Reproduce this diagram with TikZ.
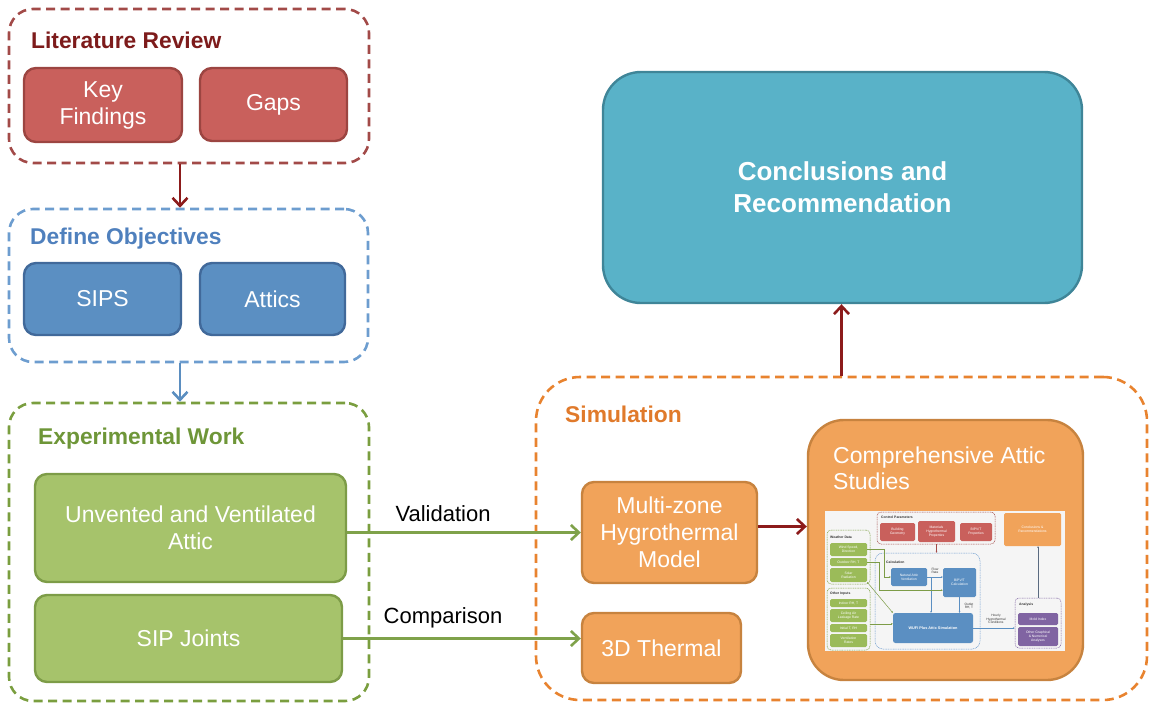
\documentclass[tikz,border=0pt]{standalone}
\usepackage{fontspec}
\setmainfont{Liberation Sans}
\usetikzlibrary{arrows.meta}

% palette
\definecolor{litBorder}{HTML}{A24A48}
\definecolor{litTitle}{HTML}{7D1B1B}
\definecolor{litFill}{HTML}{C9605C}
\definecolor{litDraw}{HTML}{9C4541}
\definecolor{objBorder}{HTML}{6D9DCF}
\definecolor{objTitle}{HTML}{4F80BD}
\definecolor{objFill}{HTML}{5B8FC2}
\definecolor{objDraw}{HTML}{41699A}
\definecolor{expBorder}{HTML}{7A9E3F}
\definecolor{expTitle}{HTML}{6E9638}
\definecolor{expFill}{HTML}{A6C36B}
\definecolor{expDraw}{HTML}{7D9C47}
\definecolor{simBorder}{HTML}{E8832F}
\definecolor{simTitle}{HTML}{E07A2B}
\definecolor{simFill}{HTML}{F1A35A}
\definecolor{simDraw}{HTML}{C7833F}
\definecolor{conFill}{HTML}{59B2C8}
\definecolor{conDraw}{HTML}{3F8598}
\definecolor{arrRed}{HTML}{8C1B1B}
\definecolor{arrBlue}{HTML}{5B8EC0}
\definecolor{arrGreen}{HTML}{7FA24A}
\definecolor{mPurple}{HTML}{8064A2}
\definecolor{mGreen}{HTML}{9BBB59}
\definecolor{mGray}{HTML}{5A6A80}
\definecolor{mText}{HTML}{333333}

% box from corner (#3,#4) to corner (#5,#6), in pixel units
\newcommand\placebox[7]{%
  \pgfmathsetmacro\bxc{(#3+#5)/2}\pgfmathsetmacro\byc{(#4+#6)/2}%
  \pgfmathsetmacro\bw{#5-#3}\pgfmathsetmacro\bh{#6-#4}%
  \node[#1, minimum width=\bw pt, minimum height=\bh pt] (#2) at (\bxc,\byc) {#7};}

\begin{document}
\begin{tikzpicture}[x=1pt,y=-1pt,
  group/.style={draw, line width=2.6pt, dash pattern=on 9pt off 5.5pt,
    rounded corners=24pt, inner sep=0pt},
  gtitle/.style={anchor=west, inner sep=0pt, font=\fontsize{22.8}{26}\selectfont\bfseries},
  box/.style={rounded corners=12pt, line width=2.4pt, align=center, text=white,
    inner sep=0pt, font=\fontsize{23}{27}\selectfont},
  flow/.style={line width=2.6pt, -{Straight Barb[length=8pt,width=15pt]}},
  lbl/.style={inner sep=0pt, text=black, font=\fontsize{22}{26}\selectfont},
  mgrp/.style={draw, line width=0.5pt, dash pattern=on 1pt off 0.7pt,
    rounded corners=4pt, inner sep=0pt},
  mtitle/.style={anchor=west, inner sep=0pt, text=mText,
    font=\fontsize{3.4}{3.8}\selectfont\bfseries},
  mbox/.style={rounded corners=1.5pt, align=center, text=white, inner sep=0pt,
    font=\fontsize{3.4}{3.8}\selectfont},
  mlbl/.style={align=center, inner sep=0pt, text=mText, font=\fontsize{3.2}{3.6}\selectfont},
  marr/.style={line width=0.5pt, -{Stealth[length=1.8pt,width=1.7pt]}}
]
\useasboundingbox (0,0) rectangle (1150,704);

% ---------- Literature Review ----------
\placebox{group, draw=litBorder}{lit}{9}{9}{369}{163}{}
\node[gtitle, text=litTitle] (litT) at (31,40) {Literature Review};
\placebox{box, fill=litFill, draw=litDraw}{kf}{24}{68}{182}{142}{Key\\Findings}
\placebox{box, fill=litFill, draw=litDraw}{gap}{200}{68}{347}{141}{Gaps}

% ---------- Define Objectives ----------
\placebox{group, draw=objBorder}{obj}{9}{209}{368}{362}{}
\node[gtitle, text=objTitle] (objT) at (30,239) {Define Objectives};
\placebox{box, fill=objFill, draw=objDraw}{sips}{24}{263}{181}{335}{SIPS}
\placebox{box, fill=objFill, draw=objDraw}{att}{200}{263}{345}{335}{Attics}

% ---------- Experimental Work ----------
\placebox{group, draw=expBorder}{exp}{9}{403}{369}{701}{}
\node[gtitle, text=expTitle] (expT) at (38,439) {Experimental Work};
\placebox{box, fill=expFill, draw=expDraw}{uva}{35}{474}{346}{582}{Unvented and Ventilated\\Attic}
\placebox{box, fill=expFill, draw=expDraw}{sj}{35}{595}{342}{682}{SIP Joints}

% ---------- Simulation ----------
\placebox{group, draw=simBorder, rounded corners=44pt}{sim}{536}{377}{1147}{700}{}
\node[gtitle, text=simTitle] (simT) at (565,414) {Simulation};
\placebox{box, fill=simFill, draw=simDraw}{mz}{582}{482}{757}{583}{Multi-zone\\Hygrothermal\\Model}
\placebox{box, fill=simFill, draw=simDraw}{td}{582}{613}{741}{683}{3D Thermal}
\placebox{box, fill=simFill, draw=simDraw, rounded corners=36pt}{cas}{808}{420}{1083}{680}{}
\node[anchor=west, align=left, inner sep=0pt, text=white,
  font=\fontsize{23}{26}\selectfont] (casT) at (833,468) {Comprehensive Attic\\Studies};

% ---------- Conclusions ----------
\placebox{box, fill=conFill, draw=conDraw, rounded corners=38pt,
  font=\fontsize{26}{32}\selectfont\bfseries}{conc}{603}{72}{1082}{303}{Conclusions and\\Recommendation}

% ---------- main connectors ----------
\coordinate (col) at (180,0);
\draw[flow, arrRed] (lit.south -| col) -- (obj.north -| col);
\draw[flow, arrBlue] (obj.south -| col) -- (exp.north -| col);
\draw[flow, arrGreen] (mz.west -| uva.east) -- (mz.west);
\node[lbl] (val) at (443,514) {Validation};
\draw[flow, arrGreen] (sj.east) -- (sj.east -| td.west);
\node[lbl] (cmp) at (443,618) {Comparison};
\draw[flow, arrRed] ([yshift=6pt]mz.east) -- ([yshift=6pt]mz.east -| cas.west);
\draw[flow, arrRed] (sim.north) -- (sim.north |- conc.south);

% ---------- workflow chart inside the attic studies box ----------
\fill[white!96!black] (825,511) rectangle (1065,651);

\placebox{mgrp, draw=litBorder}{cp}{877}{512}{995}{544}{}
\node[mtitle] (cpT) at (881,517) {Control Parameters};
\placebox{mbox, fill=litFill}{bg}{880}{523}{915}{541}{Building\\Geometry}
\placebox{mbox, fill=litFill}{mhp}{918}{521}{955}{542}{Materials\\Hygrothermal\\Properties}
\placebox{mbox, fill=litFill}{bpp}{960}{523}{992}{541}{BIPV/T\\Properties}
\placebox{mbox, fill=simFill}{cr}{1004}{513}{1061}{546}{Conclusions \&\\Recommendations}

\placebox{mgrp, draw=expBorder}{wd}{827}{530}{870}{584}{}
\node[mtitle] (wdT) at (830,537) {Weather Data};
\placebox{mbox, fill=mGreen}{ws}{830}{543}{867}{556}{Wind Speed,\\Direction}
\placebox{mbox, fill=mGreen}{ort}{830}{558}{867}{566}{Outdoor RH, T}
\placebox{mbox, fill=mGreen}{sr}{830}{568}{867}{582}{Solar\\Radiation}

\placebox{mgrp, draw=expBorder}{oi}{827}{588}{870}{650}{}
\node[mtitle] (oiT) at (830,594) {Other Inputs};
\placebox{mbox, fill=mGreen}{ir}{830}{599}{867}{607}{Indoor RH, T}
\placebox{mbox, fill=mGreen}{ca}{830}{609}{867}{622}{Ceiling Air\\Leakage Rate}
\placebox{mbox, fill=mGreen}{itr}{830}{624}{867}{632}{Initial T, RH}
\placebox{mbox, fill=mGreen}{vr}{830}{634}{867}{647}{Ventilation\\Rates}

\placebox{mgrp, draw=objBorder, rounded corners=8pt}{calc}{875}{553}{980}{649}{}
\node[mtitle] (calcT) at (886,562) {Calculation};
\placebox{mbox, fill=objFill}{na}{891}{568}{927}{586}{Natural Attic\\Ventilation}
\placebox{mbox, fill=objFill}{bc}{943}{568}{976}{597}{BiPV/T\\Calculation}
\placebox{mbox, fill=objFill, rounded corners=2.5pt,
  font=\fontsize{3.8}{4.2}\selectfont\bfseries}{wu}{893}{613}{973}{643}{WUFI Plus Attic Simulation}

\placebox{mgrp, draw=mPurple}{an}{1015}{598}{1061}{648}{}
\node[mtitle] (anT) at (1019,605) {Analysis};
\placebox{mbox, fill=mPurple}{mi}{1018}{613}{1058}{625}{Mold Index}
\placebox{mbox, fill=mPurple}{og}{1018}{627}{1058}{646}{Other Graphical\\\& Numerical\\Analyses}

% chart connectors
\coordinate (frx) at (931,0);
\draw[marr, litBorder] (cp.south -| mhp) -- (calc.north -| mhp);
\draw[marr, mGray] (an.north) -- (cr.south -| an.north);
\draw[marr, objFill] (na.east) -- (bc.west |- na.east);
\node[mlbl] (frl) at (935,571) {Flow\\Rate};
\draw[marr, objFill] (na.east -| frx) -- (wu.north -| frx);
\draw[marr, objFill] (bc.south) -- (wu.north -| bc.south);
\node[mlbl] (orl) at (969,606) {Outlet\\RH, T};
\draw[marr, objFill] (wu.east) -- (wu.east -| an.west);
\node[mlbl] (hhl) at (996,619) {Hourly\\Hygrothermal\\Conditions};
\draw[marr, expDraw] (ws.east) -- ++(17,0) |- (na.west);
\draw[marr, expDraw] (ort.east) -- ++(12,0) |- ([yshift=7pt]bc.south west);
\draw[marr, expDraw] (sr.south east) -- (wu.north west);
\draw[marr, expDraw] (oi.east |- itr.north) -- (wu.west |- itr.north);
\end{tikzpicture}
\end{document}
